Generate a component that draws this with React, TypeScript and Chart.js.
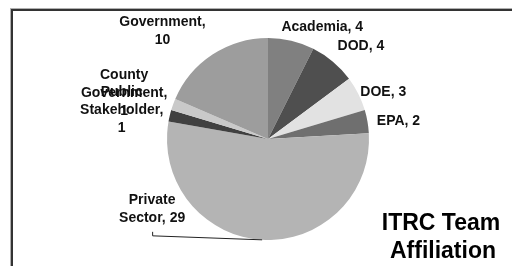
import React, { useEffect, useRef } from "react";
import { Chart, registerables } from "chart.js";

Chart.register(...registerables);

const categories = [
  "Academia",
  "DOD",
  "DOE",
  "EPA",
  "Private Sector",
  "Public Stakeholder",
  "County Government",
  "Government",
];
const values = [4, 4, 3, 2, 29, 1, 1, 10];
// label text lines (as wrapped in the picture)
const labelLines = [
  ["Academia, 4"],
  ["DOD, 4"],
  ["DOE, 3"],
  ["EPA, 2"],
  ["Private", "Sector, 29"],
  ["Public", "Stakeholder,", "1"],
  ["County", "Government,", "1"],
  ["Government,", "10"],
];
const titleLines = ["ITRC Team", "Affiliation"];

// styling
const sliceColors = [
  "#808080",
  "#4f4f4f",
  "#e2e2e2",
  "#6f6f6f",
  "#b4b4b4",
  "#404040",
  "#c9c9c9",
  "#9d9d9d",
];
// label block centre offset from the slice's outer mid-point
const labelNudge: [number, number][] = [
  [31, -14],
  [28, -15],
  [25, -2],
  [31, 0],
  [-110, -31],
  [-48, -6],
  [-49, -11],
  [-50, -23],
];
const leaderFor = [false, false, false, false, true, false, false, false];

const FONT = "'Liberation Sans', Arial, sans-serif";

export default function App() {
  const ref = useRef<HTMLCanvasElement | null>(null);

  useEffect(() => {
    const canvas = ref.current;
    if (!canvas) return;

    const overlay = {
      id: "overlay",
      afterDraw(chart: any) {
        const ctx = chart.ctx as CanvasRenderingContext2D;
        ctx.save();
        // frame
        ctx.fillStyle = "#b0b0b0";
        ctx.fillRect(10, 8, 502, 1);
        ctx.fillRect(10, 8, 1, 258);
        ctx.fillStyle = "#333333";
        ctx.fillRect(11, 9, 501, 2);
        ctx.fillRect(11, 9, 2, 257);

        const meta = chart.getDatasetMeta(0);
        const lh = 18;
        ctx.font = `bold 14px ${FONT}`;
        ctx.fillStyle = "#111111";
        ctx.textAlign = "center";
        ctx.textBaseline = "middle";
        meta.data.forEach((arc: any, i: number) => {
          const p = arc.getProps(["x", "y", "startAngle", "endAngle", "outerRadius"], true);
          const mid = (p.startAngle + p.endAngle) / 2;
          const ex = p.x + Math.cos(mid) * p.outerRadius;
          const ey = p.y + Math.sin(mid) * p.outerRadius;
          const cx = ex + labelNudge[i][0];
          const cy = ey + labelNudge[i][1];
          const lines = labelLines[i];
          const top = cy - ((lines.length - 1) * lh) / 2;
          lines.forEach((t, k) => ctx.fillText(t, cx, top + k * lh));
          if (leaderFor[i]) {
            const by = top + (lines.length - 1) * lh + 14;
            ctx.strokeStyle = "#222222";
            ctx.lineWidth = 1;
            ctx.beginPath();
            ctx.moveTo(cx + 0.5, by);
            ctx.lineTo(cx + 0.5, by + 4);
            ctx.lineTo(ex, ey);
            ctx.stroke();
          }
        });

        // title
        ctx.font = `bold 23px ${FONT}`;
        ctx.fillStyle = "#000000";
        ctx.textBaseline = "alphabetic";
        ctx.fillText(titleLines[0], 441, 230);
        ctx.fillText(titleLines[1], 443, 258);
        ctx.restore();
      },
    };

    const chart = new Chart(canvas, {
      type: "pie",
      data: {
        labels: categories,
        datasets: [
          {
            data: values,
            backgroundColor: sliceColors,
            borderWidth: 0,
          },
        ],
      },
      options: {
        animation: false,
        responsive: false,
        devicePixelRatio: 1,
        layout: { padding: { left: 167, right: 143, top: 38, bottom: 26 } },
        plugins: {
          legend: { display: false },
          tooltip: { enabled: false },
        },
      },
      plugins: [overlay],
    });
    return () => chart.destroy();
  }, []);

  return (
    <div style={{ position: "fixed", left: 0, top: 0, width: 512, height: 266, background: "#ffffff" }}>
      <canvas ref={ref} width={512} height={266} style={{ width: 512, height: 266, display: "block" }} />
    </div>
  );
}
